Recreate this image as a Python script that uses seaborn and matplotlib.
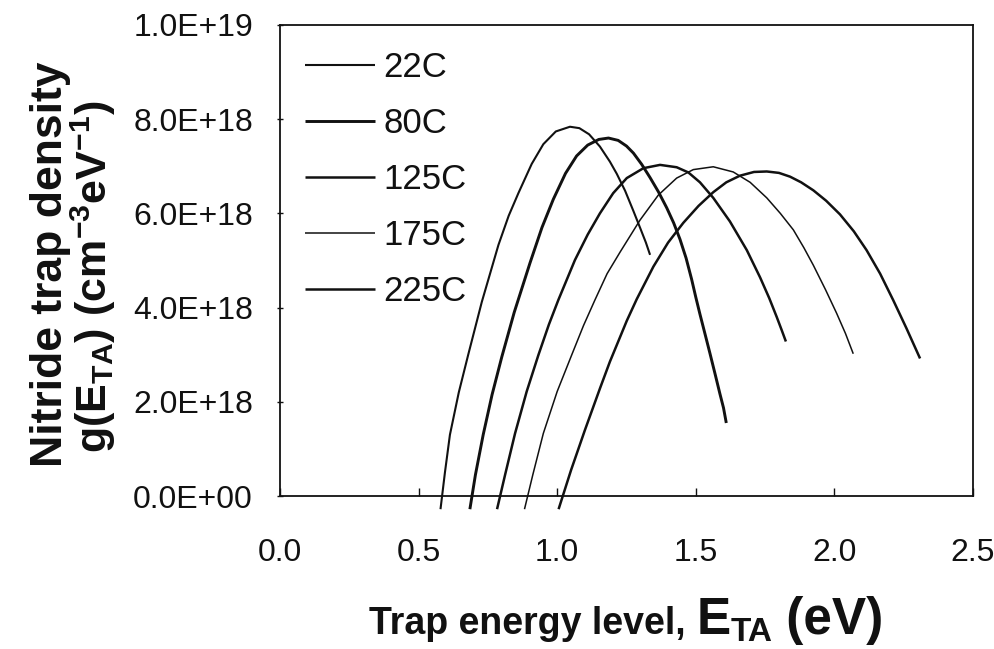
import numpy as np
import pandas as pd
import matplotlib
matplotlib.use("Agg")
import matplotlib.pyplot as plt
import seaborn as sns
from matplotlib.ticker import FuncFormatter

# Trap energy level E_TA (eV) and nitride trap density g(E_TA) (in units of 1e18 cm^-3 eV^-1)
temps = ["22C", "80C", "125C", "175C", "225C"]

e_22 = [0.579, 0.595, 0.613, 0.645, 0.679, 0.728, 0.788, 0.825, 0.860, 0.908, 0.950, 0.995, 1.046,
        1.080, 1.115, 1.154, 1.190, 1.215, 1.245, 1.275, 1.300, 1.320, 1.335]
g_22 = [-0.28, 0.50, 1.30, 2.20, 3.00, 4.12, 5.33, 5.95, 6.43, 7.05, 7.47, 7.74, 7.84,
        7.81, 7.68, 7.42, 7.10, 6.84, 6.48, 6.05, 5.68, 5.38, 5.12]

e_80 = [0.685, 0.705, 0.733, 0.765, 0.800, 0.845, 0.902, 0.945, 0.986, 1.030, 1.070, 1.110, 1.150,
        1.185, 1.220, 1.250, 1.275, 1.305, 1.335, 1.365, 1.395, 1.420, 1.443, 1.465, 1.485,
        1.500, 1.515, 1.535, 1.551, 1.570, 1.587, 1.600, 1.610]
g_80 = [-0.28, 0.45, 1.30, 2.15, 2.95, 3.90, 4.95, 5.70, 6.30, 6.85, 7.22, 7.45, 7.57,
        7.60, 7.55, 7.43, 7.28, 7.04, 6.76, 6.46, 6.12, 5.80, 5.45, 5.05, 4.60,
        4.22, 3.86, 3.40, 3.03, 2.58, 2.17, 1.87, 1.55]

e_125 = [0.783, 0.812, 0.848, 0.890, 0.932, 0.970, 1.004, 1.064, 1.110, 1.154, 1.202, 1.251, 1.311,
         1.371, 1.431, 1.473, 1.515, 1.563, 1.623, 1.684, 1.732, 1.765, 1.792, 1.810, 1.825]
g_125 = [-0.28, 0.45, 1.33, 2.22, 2.99, 3.64, 4.16, 5.01, 5.55, 6.00, 6.43, 6.75, 6.96,
         7.03, 6.98, 6.87, 6.66, 6.33, 5.83, 5.22, 4.64, 4.20, 3.80, 3.52, 3.28]

e_175 = [0.882, 0.912, 0.950, 1.000, 1.052, 1.095, 1.136, 1.180, 1.227, 1.299, 1.365, 1.431, 1.491,
         1.563, 1.635, 1.696, 1.756, 1.805, 1.852, 1.890, 1.924, 1.968, 2.008, 2.040, 2.068]
g_175 = [-0.28, 0.45, 1.33, 2.22, 2.99, 3.62, 4.16, 4.72, 5.18, 5.86, 6.39, 6.75, 6.93,
         6.99, 6.88, 6.66, 6.33, 6.00, 5.65, 5.27, 4.90, 4.38, 3.88, 3.45, 3.02]

e_225 = [1.005, 1.050, 1.100, 1.154, 1.190, 1.251, 1.287, 1.347, 1.400, 1.455, 1.510, 1.563, 1.610,
         1.659, 1.710, 1.756, 1.800, 1.840, 1.880, 1.924, 1.970, 2.020, 2.070, 2.116, 2.165,
         2.212, 2.260, 2.309]
g_225 = [-0.28, 0.55, 1.40, 2.28, 2.85, 3.72, 4.18, 4.87, 5.38, 5.80, 6.16, 6.45, 6.66,
         6.80, 6.88, 6.89, 6.86, 6.78, 6.66, 6.49, 6.27, 5.98, 5.62, 5.22, 4.72,
         4.16, 3.56, 2.92]

x_ticks = [0.0, 0.5, 1.0, 1.5, 2.0, 2.5]
y_ticks = [0.0, 2.0e18, 4.0e18, 6.0e18, 8.0e18, 1.0e19]

energies = [e_22, e_80, e_125, e_175, e_225]
densities = [g_22, g_80, g_125, g_175, g_225]
widths = [1.5, 2.1, 1.8, 1.1, 1.8]

sns.set_theme(style="white")
plt.rcParams["font.family"] = ["Liberation Sans", "DejaVu Sans"]
plt.rcParams["mathtext.fontset"] = "custom"
plt.rcParams["mathtext.rm"] = "Liberation Sans"
plt.rcParams["mathtext.bf"] = "Liberation Sans:bold"
plt.rcParams["mathtext.it"] = "Liberation Sans:italic"
plt.rcParams["lines.solid_joinstyle"] = "round"
plt.rcParams["lines.solid_capstyle"] = "butt"

W, H = 995, 649
fig = plt.figure(figsize=(W / 100, H / 100), dpi=100)
ax = fig.add_axes([280 / W, 1 - 496 / H, 693 / W, 471 / H])

for label, e, g, lw in zip(temps, energies, densities, widths):
    df = pd.DataFrame({"E_TA": e, "g": np.array(g) * 1e18})
    sns.lineplot(data=df, x="E_TA", y="g", ax=ax, sort=False, estimator=None,
                 color="#111111", linewidth=lw, label=label, clip_on=False)

ax.set_xlim(0, 2.5)
ax.set_ylim(0, 1e19)
ax.set_xticks(x_ticks)
ax.set_yticks(y_ticks)
ax.xaxis.set_major_formatter(FuncFormatter(lambda v, p: f"{v:.1f}"))


def sci_label(v, pos):
    if v == 0:
        return "0.0E+00"
    exp = int(np.floor(np.log10(abs(v)) + 1e-9))
    return f"{v / 10 ** exp:.1f}E+{exp:02d}"


ax.yaxis.set_major_formatter(FuncFormatter(sci_label))
ax.set_xlabel("")
ax.set_ylabel("")

for side in ["left", "bottom", "right", "top"]:
    ax.spines[side].set_visible(True)
    ax.spines[side].set_color("#111111")
    ax.spines[side].set_linewidth(1.3)

ax.tick_params(axis="x", direction="in", length=6, width=1.0, pad=30, labelsize=23,
               colors="#111111", bottom=True)
ax.tick_params(axis="y", direction="inout", length=5, width=1.0, pad=17, labelsize=23,
               colors="#111111", left=True)

leg = ax.legend(loc="upper left", bbox_to_anchor=(0.036, 0.944), frameon=False,
                fontsize=25, handlelength=2.02, handletextpad=0.23, labelspacing=0.66,
                borderaxespad=0, borderpad=0)
for txt in leg.get_texts():
    txt.set_color("#111111")

# y-axis title, two rotated lines
fig.text(62 / W, 1 - 264 / H, "Nitride trap density", rotation=90, rotation_mode="anchor",
         ha="center", va="baseline", fontsize=32, fontweight="bold", color="#111111")
fig.text(107 / W, 1 - 277 / H,
         r"g(E$_{\mathbf{TA}}$) (cm$^{\mathbf{-3}}$eV$^{\mathbf{-1}}$)",
         rotation=90, rotation_mode="anchor", ha="center", va="baseline",
         fontsize=31, fontweight="bold", color="#111111")

# x-axis title built from pieces of different size
fig.canvas.draw()
renderer = fig.canvas.get_renderer()
base_y = 634
pieces = [("Trap energy level, ", 27, 0), ("E", 37, 0), ("TA", 24, -7), (" (eV)", 37, 0)]
texts = []
for s, size, dy in pieces:
    t = fig.text(0, 0, s, fontsize=size, fontweight="bold", color="#111111",
                 ha="left", va="baseline")
    texts.append((t, dy))
widths_px = [t.get_window_extent(renderer).width for t, _ in texts]
x = (280 + 973) / 2 - sum(widths_px) / 2
for (t, dy), wpx in zip(texts, widths_px):
    t.set_position((x / W, 1 - (base_y - dy) / H))
    x += wpx

fig.savefig("out.png", dpi=100)
